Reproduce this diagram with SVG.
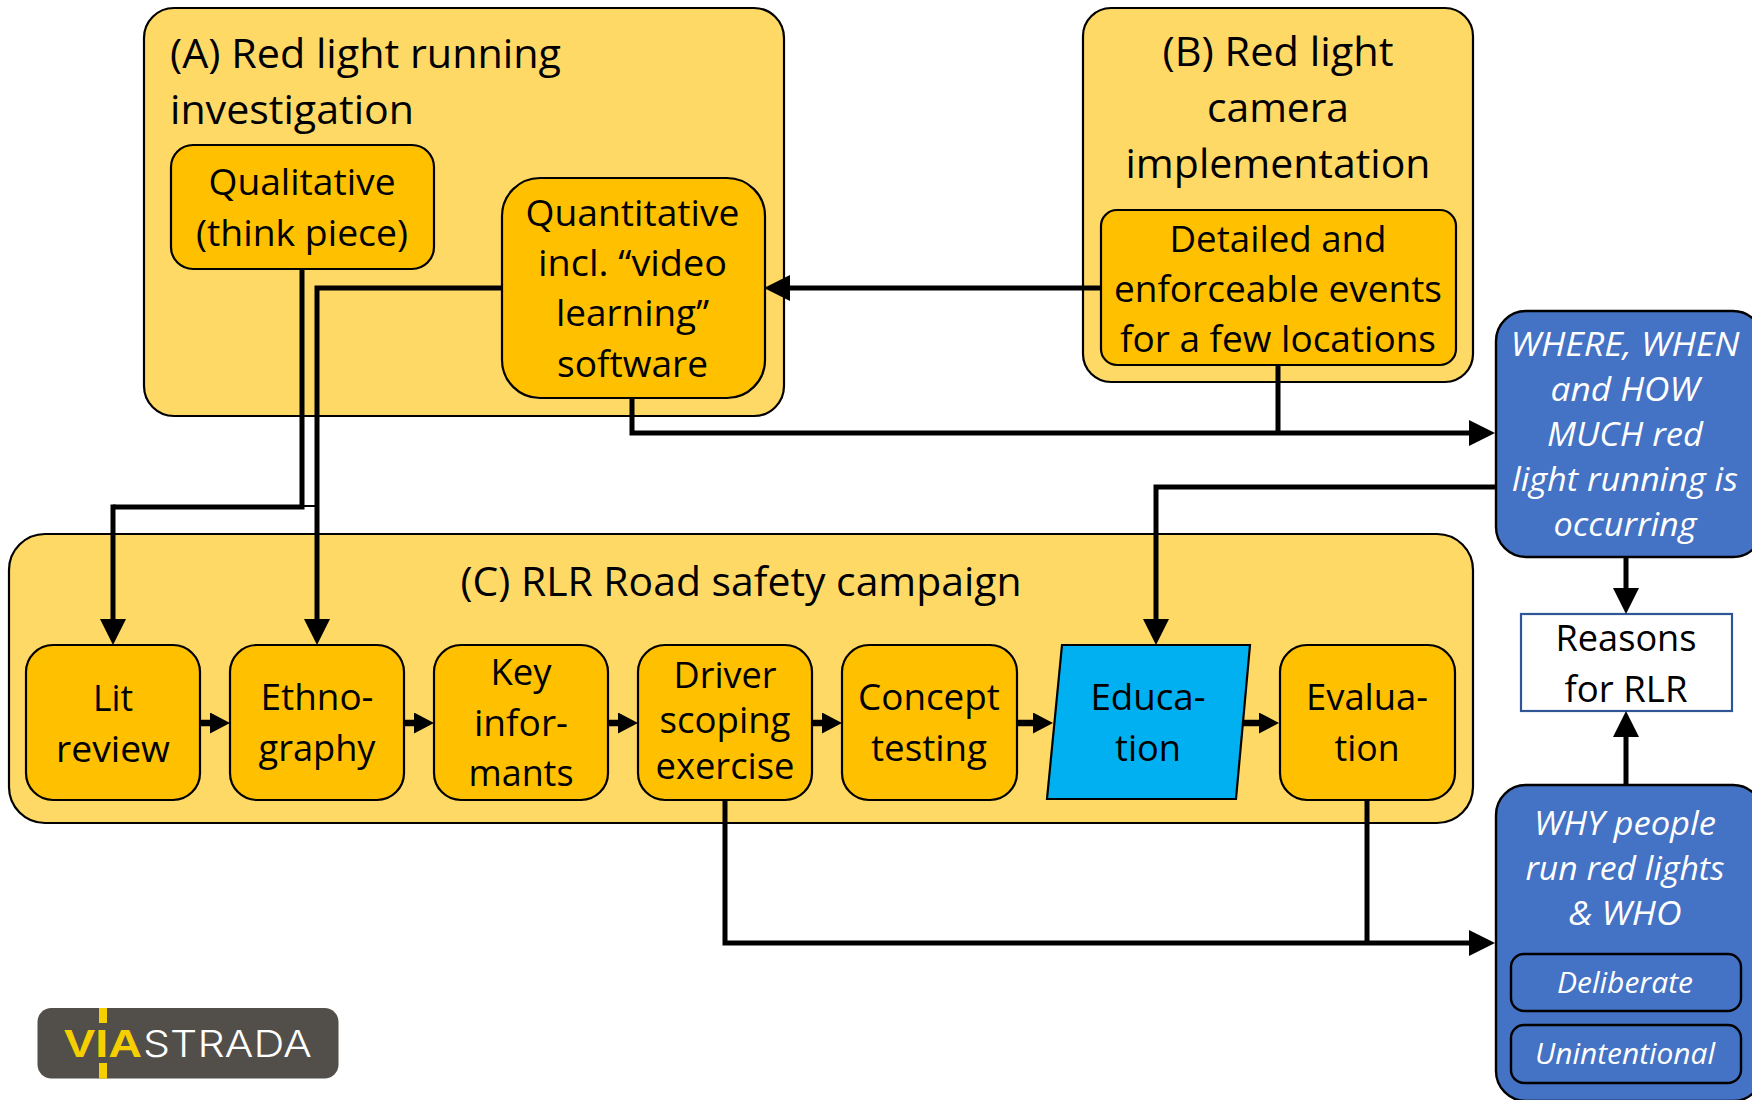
<svg xmlns="http://www.w3.org/2000/svg" width="1752" height="1100" viewBox="0 0 1752 1100">
<style>
text{font-family:"Open Sans","Noto Sans","Liberation Sans",sans-serif;fill:#000;text-anchor:middle}
.h{font-size:40px}.t{font-size:36px}
.w{fill:#fff;font-style:italic;font-size:33px}.s{font-size:29px}
.o{fill:#FFD966;stroke:#000;stroke-width:2.2}
.i{fill:#FFC000;stroke:#000;stroke-width:2.2}
.b{fill:#4472C4;stroke:#000;stroke-width:2.4}
.c{fill:none;stroke:#000;stroke-width:5}
.m{marker-end:url(#big)}.n{marker-end:url(#small);stroke-width:6.5;fill:none;stroke:#000}
</style>
<defs>
<marker id="big" markerUnits="userSpaceOnUse" markerWidth="30" markerHeight="30" refX="12" refY="13" orient="auto"><path d="M0,0L26,13L0,26Z"/></marker>
<marker id="small" markerUnits="userSpaceOnUse" markerWidth="24" markerHeight="24" refX="9" refY="10.5" orient="auto"><path d="M0,0L20,10.5L0,21Z"/></marker>
</defs>
<rect width="1752" height="1100" fill="#fff"/>
<g id="node-a"><rect class="o" x="144" y="8" width="640" height="408" rx="30"/>
<text class="h" x="170" y="68" style="text-anchor:start" textLength="391" lengthAdjust="spacingAndGlyphs">(A) Red light running</text>
<text class="h" x="170" y="124" style="text-anchor:start" textLength="244" lengthAdjust="spacingAndGlyphs">investigation</text></g>
<g id="node-qualitative"><rect class="i" x="171" y="145" width="263" height="124" rx="22"/>
<text class="t" x="302" y="195" textLength="187" lengthAdjust="spacingAndGlyphs">Qualitative</text>
<text class="t" x="302" y="246" textLength="212" lengthAdjust="spacingAndGlyphs">(think piece)</text></g>
<g id="node-quantitative"><rect class="i" x="502" y="178" width="263" height="220" rx="38"/>
<text class="t" x="632.5" y="226" textLength="214" lengthAdjust="spacingAndGlyphs">Quantitative</text>
<text class="t" x="632.5" y="276" textLength="189" lengthAdjust="spacingAndGlyphs">incl. “video</text>
<text class="t" x="632.5" y="326" textLength="153" lengthAdjust="spacingAndGlyphs">learning”</text>
<text class="t" x="632.5" y="377" textLength="151" lengthAdjust="spacingAndGlyphs">software</text></g>
<g id="node-b"><rect class="o" x="1083" y="8" width="390" height="374" rx="28"/>
<text class="h" x="1278" y="66" textLength="231" lengthAdjust="spacingAndGlyphs">(B) Red light</text>
<text class="h" x="1278" y="122" textLength="142" lengthAdjust="spacingAndGlyphs">camera</text>
<text class="h" x="1278" y="178" textLength="305" lengthAdjust="spacingAndGlyphs">implementation</text></g>
<g id="node-detailed"><rect class="i" x="1101" y="210" width="355" height="155" rx="16"/>
<text class="t" x="1278" y="252" textLength="217" lengthAdjust="spacingAndGlyphs">Detailed and</text>
<text class="t" x="1278" y="302" textLength="328" lengthAdjust="spacingAndGlyphs">enforceable events</text>
<text class="t" x="1278" y="352" textLength="316" lengthAdjust="spacingAndGlyphs">for a few locations</text></g>
<g id="node-c"><rect class="o" x="9" y="534" width="1464" height="289" rx="36"/>
<text class="h" x="741" y="596" textLength="561" lengthAdjust="spacingAndGlyphs">(C) RLR Road safety campaign</text></g>
<g id="node-lit"><rect class="i" x="26" y="645" width="174" height="155" rx="27"/>
<text class="t" x="113" y="711" textLength="40" lengthAdjust="spacingAndGlyphs">Lit</text>
<text class="t" x="113" y="762" textLength="114" lengthAdjust="spacingAndGlyphs">review</text></g>
<g id="node-ethno"><rect class="i" x="230" y="645" width="174" height="155" rx="27"/>
<text class="t" x="317" y="710" textLength="113" lengthAdjust="spacingAndGlyphs">Ethno-</text>
<text class="t" x="317" y="761" textLength="117" lengthAdjust="spacingAndGlyphs">graphy</text></g>
<g id="node-key"><rect class="i" x="434" y="645" width="174" height="155" rx="27"/>
<text class="t" x="521" y="685" textLength="61" lengthAdjust="spacingAndGlyphs">Key</text>
<text class="t" x="521" y="736" textLength="94" lengthAdjust="spacingAndGlyphs">infor-</text>
<text class="t" x="521" y="786" textLength="105" lengthAdjust="spacingAndGlyphs">mants</text></g>
<g id="node-driver"><rect class="i" x="638" y="645" width="174" height="155" rx="27"/>
<text class="t" x="725" y="688" textLength="103" lengthAdjust="spacingAndGlyphs">Driver</text>
<text class="t" x="725" y="733" textLength="131" lengthAdjust="spacingAndGlyphs">scoping</text>
<text class="t" x="725" y="779" textLength="139" lengthAdjust="spacingAndGlyphs">exercise</text></g>
<g id="node-concept"><rect class="i" x="842" y="645" width="175" height="155" rx="27"/>
<text class="t" x="929" y="710" textLength="142" lengthAdjust="spacingAndGlyphs">Concept</text>
<text class="t" x="929" y="761" textLength="116" lengthAdjust="spacingAndGlyphs">testing</text></g>
<g id="node-education"><path d="M1062,645H1250L1236,799H1047Z" fill="#00B0F0" stroke="#000" stroke-width="2.2"/>
<text class="t" x="1148" y="710" textLength="115" lengthAdjust="spacingAndGlyphs">Educa-</text>
<text class="t" x="1148" y="761" textLength="66" lengthAdjust="spacingAndGlyphs">tion</text></g>
<g id="node-evaluation"><rect class="i" x="1280" y="645" width="175" height="155" rx="27"/>
<text class="t" x="1367" y="710" textLength="122" lengthAdjust="spacingAndGlyphs">Evalua-</text>
<text class="t" x="1367" y="761" textLength="65" lengthAdjust="spacingAndGlyphs">tion</text></g>
<g id="node-where"><rect class="b" x="1496" y="311" width="267" height="246" rx="30"/>
<text class="w" x="1625" y="356" textLength="229" lengthAdjust="spacingAndGlyphs">WHERE, WHEN</text>
<text class="w" x="1625" y="401" textLength="149" lengthAdjust="spacingAndGlyphs">and HOW</text>
<text class="w" x="1625" y="446" textLength="156" lengthAdjust="spacingAndGlyphs">MUCH red</text>
<text class="w" x="1625" y="491" textLength="226" lengthAdjust="spacingAndGlyphs">light running is</text>
<text class="w" x="1625" y="536" textLength="143" lengthAdjust="spacingAndGlyphs">occurring</text></g>
<g id="node-reasons"><rect x="1521" y="614" width="211" height="97" fill="#fff" stroke="#2F5597" stroke-width="2.2"/>
<text class="t" x="1626" y="651" textLength="141" lengthAdjust="spacingAndGlyphs">Reasons</text>
<text class="t" x="1626" y="702" textLength="123" lengthAdjust="spacingAndGlyphs">for RLR</text></g>
<g id="node-why"><rect class="b" x="1496" y="785" width="267" height="316" rx="30"/>
<text class="w" x="1625" y="835" textLength="182" lengthAdjust="spacingAndGlyphs">WHY people</text>
<text class="w" x="1625" y="880" textLength="199" lengthAdjust="spacingAndGlyphs">run red lights</text>
<text class="w" x="1625" y="925" textLength="113" lengthAdjust="spacingAndGlyphs">&amp; WHO</text></g>
<g id="node-deliberate"><rect class="b" x="1511" y="954" width="230" height="57" rx="13"/>
<text class="w s" x="1625" y="993" textLength="136" lengthAdjust="spacingAndGlyphs">Deliberate</text></g>
<g id="node-unintentional"><rect class="b" x="1511" y="1025" width="230" height="58" rx="13"/>
<text class="w s" x="1625" y="1064" textLength="180" lengthAdjust="spacingAndGlyphs">Unintentional</text></g>
<g id="logo"><rect x="37.500" y="1008" width="301" height="70.500" rx="14" fill="#524E4A"/>
<rect x="99" y="1008" width="8" height="15" fill="#F5CF00"/><rect x="99" y="1063" width="8" height="15.500" fill="#F5CF00"/>
<text x="64" y="1057" style="text-anchor:start;fill:#F5CF00;font-family:'Liberation Sans',sans-serif;font-weight:700;font-size:38px" textLength="78" lengthAdjust="spacingAndGlyphs">VIA</text>
<text x="143" y="1057" style="text-anchor:start;fill:#fff;font-family:Inter,Roboto,sans-serif;font-weight:300;font-size:37px" textLength="169" lengthAdjust="spacingAndGlyphs">STRADA</text></g>
<g id="connectors">
<path class="c" d="M302,269V509.500M304.500,507H113"/>
<path class="c m" d="M113,504.500V631"/>
<path d="M302,506H317" fill="none" stroke="#000" stroke-width="2"/>
<path class="c m" d="M502,288H317V631"/>
<path class="c m" d="M1101,288H778"/>
<path class="c m" d="M632,398V433H1481"/>
<path class="c" d="M1278,365V433"/>
<path class="c m" d="M1496,487H1156V631"/>
<path class="c m" d="M1626,557V600"/>
<path class="c m" d="M1626,785V725"/>
<path class="c m" d="M725,800V943H1481"/>
<path class="c" d="M1367,800V943"/>
<path class="n" d="M200,723H219"/><path class="n" d="M404,723H423"/><path class="n" d="M608,723H627"/><path class="n" d="M812,723H831"/><path class="n" d="M1017,723H1042"/><path class="n" d="M1243,723H1268"/>
</g>
</svg>
